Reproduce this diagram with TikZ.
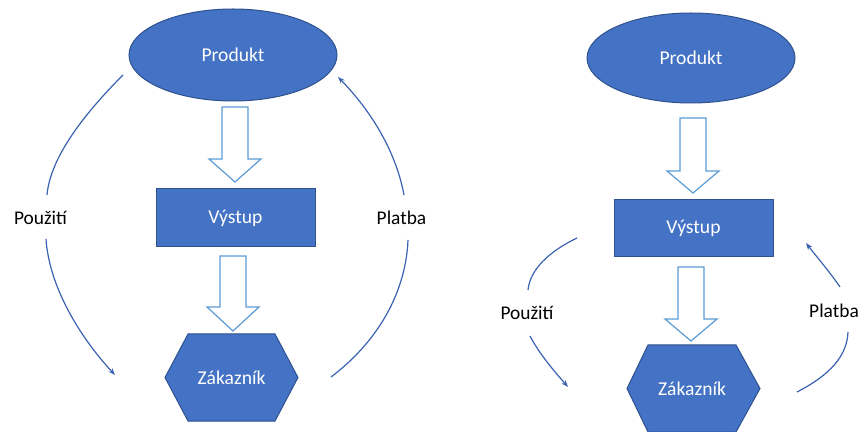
\documentclass[tikz,border=0pt]{standalone}
\usepackage{fontspec}
\setmainfont{Carlito}
\usetikzlibrary{arrows.meta,shapes.geometric}
\definecolor{ofblue}{RGB}{68,114,196}
\definecolor{ofdark}{RGB}{47,82,143}
\definecolor{ofarrow}{RGB}{91,155,213}
\definecolor{ofline}{RGB}{58,98,178}
\begin{document}
\begin{tikzpicture}[x=0.5pt,y=-0.5pt,
  shapefill/.style={fill=ofblue,draw=ofdark,line width=0.5pt},
  wlabel/.style={text=white,font=\fontsize{9.8}{12}\selectfont},
  blabel/.style={text=black,font=\fontsize{9.7}{12}\selectfont},
  blockarrow/.style={fill=white,draw=ofarrow,line width=0.6pt,line join=miter},
  conn/.style={draw=ofline,line width=0.6pt},
  connarrow/.style={conn,-{Stealth[length=3.5pt,width=2.6pt]}}]
\useasboundingbox (0,0) rectangle (861,432);

% ===== Left diagram =====
\node[shapefill,ellipse,minimum width=104pt,minimum height=46pt,inner sep=0pt] (prodL) at (233,55) {};
\node[wlabel] at (prodL.center) {Produkt};
\node[shapefill,rectangle,minimum width=79.5pt,minimum height=29pt,inner sep=0pt] (vysL) at (235.5,218) {};
\node[wlabel] at (vysL.center) {Výstup};
\filldraw[shapefill] (188,334) -- (275,334) -- (298,377.5) -- (275,421) -- (188,421) -- (165,377.5) -- cycle;
\node[wlabel] (zakL) at (231.5,377.5) {Zákazník};

\filldraw[blockarrow] (222,107) -- (248,107) -- (248,159) -- (261,159) -- (235,182) -- (209,159) -- (222,159) -- cycle;
\filldraw[blockarrow] (220,256) -- (246,256) -- (246,307) -- (259,307) -- (233,331) -- (207,307) -- (220,307) -- cycle;

\node[blabel] (pouzL) at (40.5,218) {Použití};
\node[blabel] (platL) at (401.5,218) {Platba};

\coordinate (l1a) at (123,75);
\coordinate (l1b) at (47,195);
\coordinate (l2a) at (46,239);
\coordinate (l2b) at (115,375);
\coordinate (r1a) at (331,377);
\coordinate (r1b) at (408,240);
\coordinate (r2a) at (404,195);
\coordinate (r2b) at (338,77);
\draw[conn] (l1a) .. controls (80,118) and (50,160) .. (l1b);
\draw[connarrow] (l2a) .. controls (49,285) and (78,335) .. (l2b);
\draw[conn] (r1a) .. controls (380,340) and (406,290) .. (r1b);
\draw[connarrow] (r2a) .. controls (396,152) and (372,112) .. (r2b);

% ===== Right diagram =====
\node[shapefill,ellipse,minimum width=104pt,minimum height=45pt,inner sep=0pt] (prodR) at (691,58) {};
\node[wlabel] at (prodR.center) {Produkt};
\node[shapefill,rectangle,minimum width=79.5pt,minimum height=28.5pt,inner sep=0pt] (vysR) at (693.5,228.5) {};
\node[wlabel] at (vysR.center) {Výstup};
\filldraw[shapefill] (648,345) -- (736,345) -- (760,388.5) -- (736,432) -- (648,432) -- (627,388.5) -- cycle;
\node[wlabel] (zakR) at (692,388.5) {Zákazník};

\filldraw[blockarrow] (680,118) -- (706,118) -- (706,171) -- (719,171) -- (693,193) -- (667,171) -- (680,171) -- cycle;
\filldraw[blockarrow] (678,267) -- (704,267) -- (704,319) -- (717,319) -- (691,341) -- (665,319) -- (678,319) -- cycle;

\node[blabel] (pouzR) at (527,313) {Použití};
\node[blabel] (platR) at (834,311) {Platba};

\coordinate (l3a) at (577,238);
\coordinate (l3b) at (528,290);
\coordinate (l4a) at (530,336);
\coordinate (l4b) at (568,387);
\coordinate (r3a) at (797,392);
\coordinate (r3b) at (848,332);
\coordinate (r4a) at (840,287);
\coordinate (r4b) at (806,243);
\draw[conn] (l3a) .. controls (548,252) and (530,270) .. (l3b);
\draw[connarrow] (l4a) .. controls (540,355) and (555,372) .. (l4b);
\draw[conn] (r3a) .. controls (830,375) and (847,356) .. (r3b);
\draw[connarrow] (r4a) .. controls (829,271) and (816,256) .. (r4b);
\end{tikzpicture}
\end{document}
